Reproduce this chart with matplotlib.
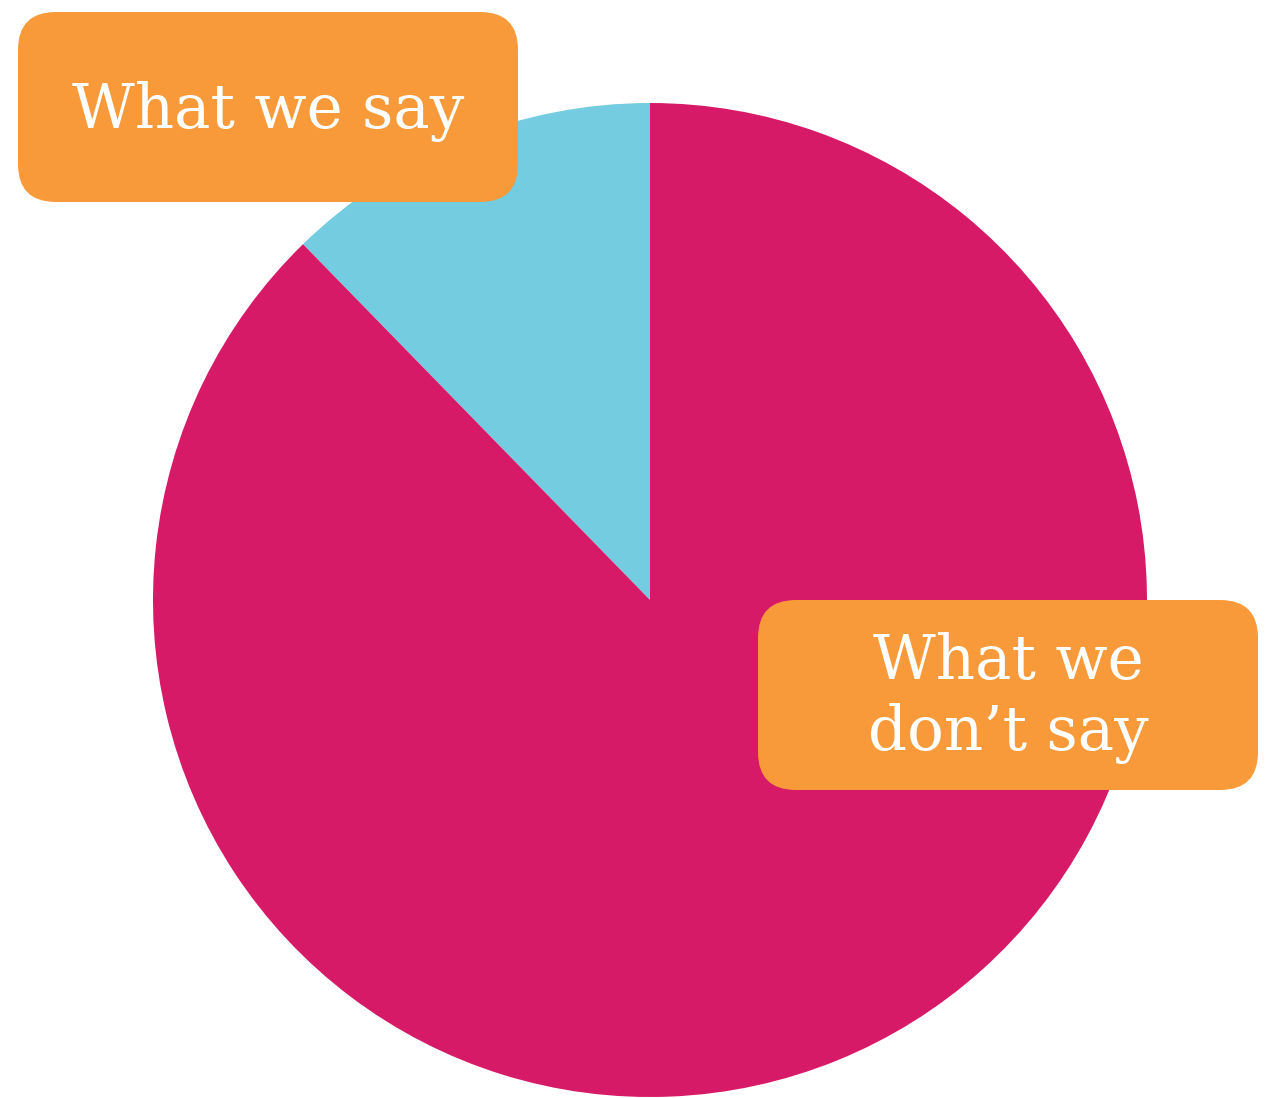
import matplotlib
matplotlib.use('Agg')
import matplotlib.pyplot as plt
from matplotlib.patches import FancyBboxPatch

labels = ['What we say', 'What we\ndon\u2019t say']
shares = [12.3, 87.7]
colors = ['#74CCE0', '#D61A68']
box_color = '#F89A3A'

W, H = 1272, 1098
fig = plt.figure(figsize=(W / 100, H / 100), dpi=100)
ax = fig.add_axes([0, 0, 1, 1])

# pie, centre/radius in pixel units
ax.pie(shares, colors=colors, startangle=90, counterclock=True,
       center=(650, H - 600), radius=497, frame=True,
       wedgeprops=dict(linewidth=0))
ax.set_xlim(0, W)
ax.set_ylim(0, H)
ax.set_aspect('equal')
ax.axis('off')

# label boxes (x0, y0 top-left in pixels, w, h)
boxes = [(18, 12, 500, 190), (758, 600, 500, 190)]
for (x0, y0, bw, bh), lab in zip(boxes, labels):
    p = FancyBboxPatch((x0, H - y0 - bh), bw, bh,
                       boxstyle='round,pad=0,rounding_size=38',
                       fc=box_color, ec='none', zorder=3)
    ax.add_patch(p)

ax.text(268, H - 112, labels[0], ha='center', va='center', color='white',
        fontsize=44, family='DejaVu Serif', zorder=4)
ax.text(1008, H - 698, labels[1], ha='center', va='center', color='white',
        fontsize=44, family='DejaVu Serif', zorder=4, linespacing=1.25)

fig.savefig('out.png', dpi=100)
